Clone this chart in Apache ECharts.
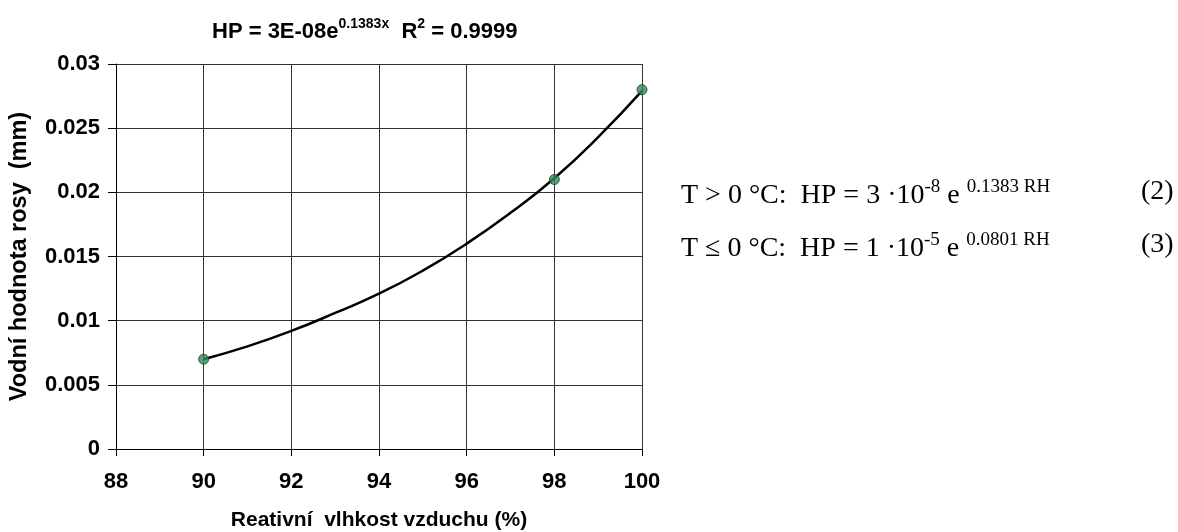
<!DOCTYPE html>
<html>
<head>
<meta charset="utf-8">
<script src="https://cdn.jsdelivr.net/npm/echarts@6/dist/echarts.min.js"></script>
<style>
  html, body { margin: 0; padding: 0; background: #fff; }
  #chart { width: 1178px; height: 532px; }
</style>
</head>
<body>
<div id="chart"></div>
<script>
// měřené body
var rhPoints = [90, 98, 100];
var hpPoints = [0.007, 0.021, 0.028];

// spojnice trendu
var trendRH = [90, 91, 92, 93, 94, 95, 96, 97, 98, 99, 100];
var trendHP = [0.0070, 0.0080, 0.0092, 0.0106, 0.0121, 0.0139, 0.0160, 0.0184, 0.0211, 0.0243, 0.0279];

var xTicks = [88, 90, 92, 94, 96, 98, 100];

var myChart = echarts.init(document.getElementById('chart'));

var sans = '"Liberation Sans", Arial, sans-serif';
var serif = '"Liberation Serif", "Times New Roman", serif';

function pairs(xs, ys) {
    return xs.map(function (x, i) { return [x, ys[i]]; });
}

var eqRich = {
    b: { fontFamily: serif, fontSize: 28, color: '#000', lineHeight: 36 },
    s: { fontFamily: serif, fontSize: 19, color: '#000', lineHeight: 36, verticalAlign: 'top', padding: [0, 0, 14, 0] }
};

option = {
    backgroundColor: '#fff',
    animation: false,
    title: {
        text: '{b|HP = 3E-08e}{s|0.1383x}{b|  R}{s|2}{b| = 0.9999}',
        left: 207,
        top: 12,
        textStyle: {
            rich: {
                b: { fontFamily: sans, fontWeight: 'bold', fontSize: 22, color: '#000', lineHeight: 30 },
                s: { fontFamily: sans, fontWeight: 'bold', fontSize: 14, color: '#000', lineHeight: 30, verticalAlign: 'top', padding: [0, 0, 10, 0] }
            }
        }
    },
    grid: {
        left: 116,
        right: 536,
        top: 64,
        bottom: 83,
        outerBoundsMode: 'none',
        containLabel: false
    },
    xAxis: {
        type: 'value',
        min: 88,
        max: 100,
        interval: 2,
        name: 'Reativní  vlhkost vzduchu (%)',
        nameLocation: 'middle',
        nameGap: 61,
        nameTextStyle: { fontFamily: sans, fontWeight: 'bold', fontSize: 21, color: '#000' },
        axisLine: { lineStyle: { color: '#000', width: 1 } },
        axisTick: { show: true, length: 7, lineStyle: { color: '#000' } },
        axisLabel: {
            fontFamily: sans, fontWeight: 'bold', fontSize: 22, color: '#000', margin: 22,
            formatter: function (v) { return xTicks.indexOf(v) >= 0 ? String(v) : ''; }
        },
        splitLine: { show: true, lineStyle: { color: '#333', width: 1 } }
    },
    yAxis: {
        type: 'value',
        min: 0,
        max: 0.03,
        interval: 0.005,
        name: 'Vodní hodnota rosy  (mm)',
        nameLocation: 'middle',
        nameGap: 84,
        nameTextStyle: { fontFamily: sans, fontWeight: 'bold', fontSize: 23.5, color: '#000' },
        axisLine: { show: true, lineStyle: { color: '#000', width: 1 } },
        axisTick: { show: true, length: 8, lineStyle: { color: '#000' } },
        axisLabel: {
            fontFamily: sans, fontWeight: 'bold', fontSize: 22, color: '#000', margin: 16,
            formatter: function (v) { return String(+v.toFixed(3)); }
        },
        splitLine: { show: true, lineStyle: { color: '#333', width: 1 } }
    },
    graphic: [
        {
            type: 'text',
            left: 681,
            top: 178,
            style: { text: '{b|T > 0 °C:  HP = 3 ·10}{s|-8}{b| e }{s|0.1383 RH}', rich: eqRich }
        },
        {
            type: 'text',
            left: 1141,
            top: 178,
            style: { text: '{b|(2)}', rich: eqRich }
        },
        {
            type: 'text',
            left: 681,
            top: 231,
            style: { text: '{b|T ≤ 0 °C:  HP = 1 ·10}{s|-5}{b| e }{s|0.0801 RH}', rich: eqRich }
        },
        {
            type: 'text',
            left: 1141,
            top: 231,
            style: { text: '{b|(3)}', rich: eqRich }
        }
    ],
    series: [
        {
            name: 'trend',
            type: 'line',
            data: pairs(trendRH, trendHP),
            smooth: true,
            showSymbol: false,
            symbol: 'none',
            lineStyle: { color: '#000', width: 2.5 },
            z: 2
        },
        {
            name: 'HP',
            type: 'scatter',
            data: pairs(rhPoints, hpPoints),
            symbol: 'circle',
            symbolSize: 10,
            itemStyle: { color: '#2e8b5e', borderColor: '#1b3b2b', borderWidth: 1 },
            z: 3
        }
    ]
};

myChart.setOption(option);
</script>
</body>
</html>
